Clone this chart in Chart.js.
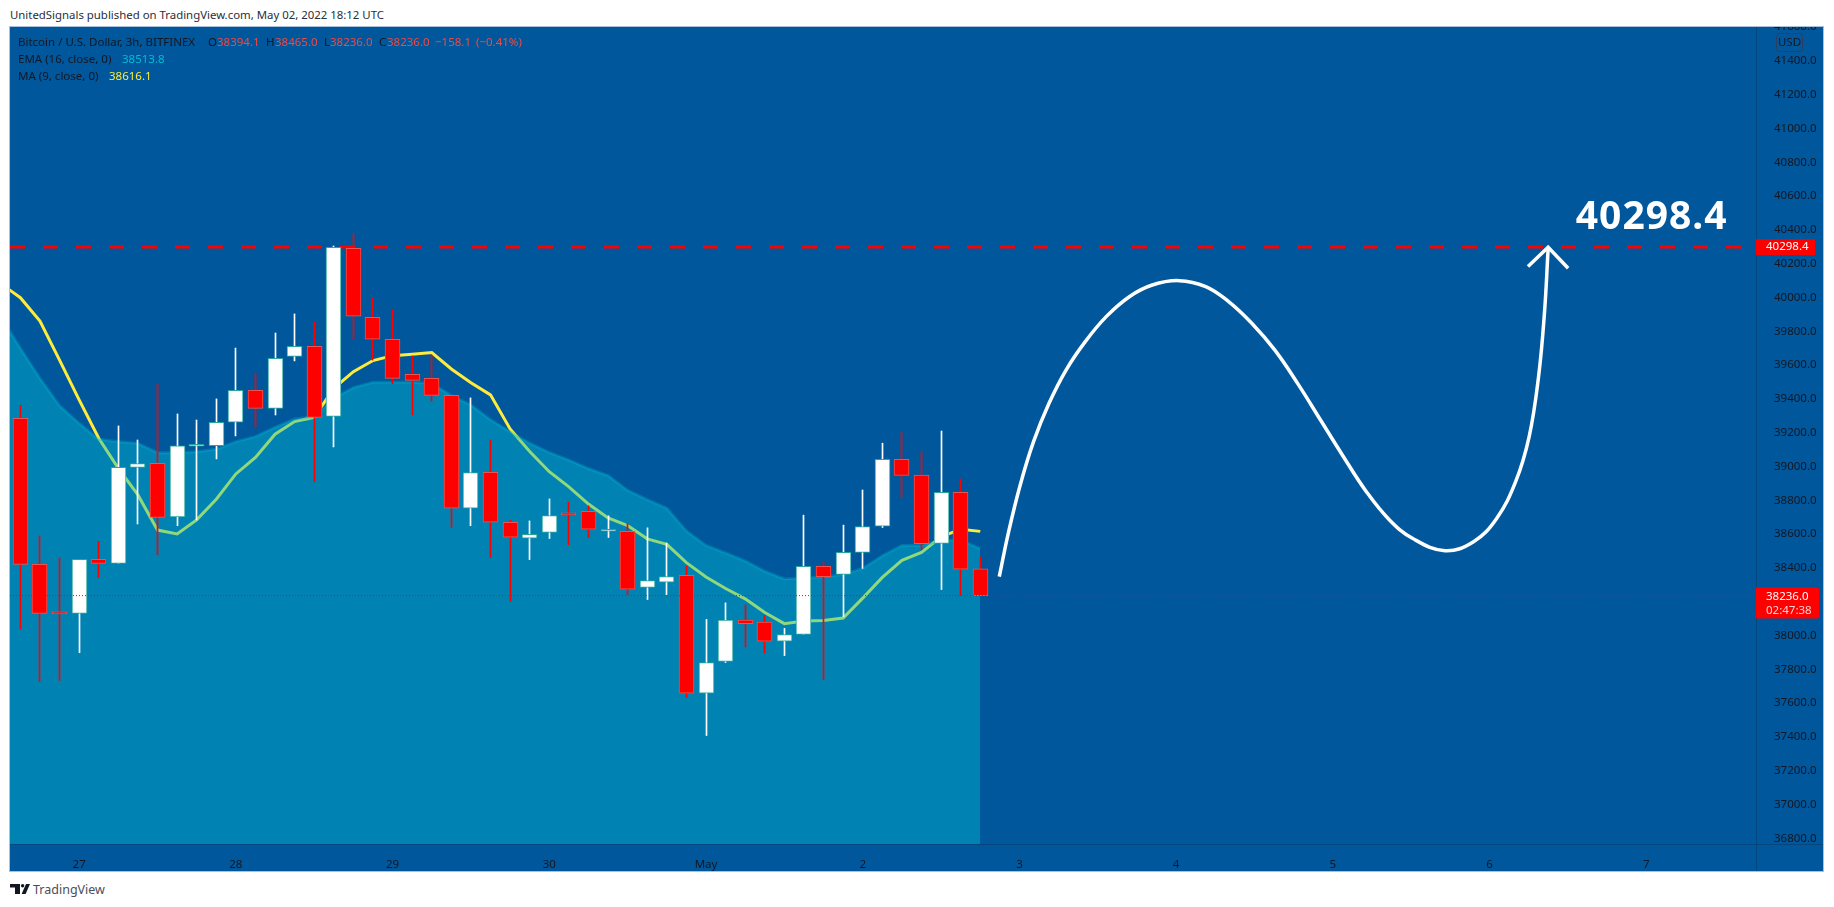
<!DOCTYPE html>
<html>
<head>
<meta charset="utf-8">
<title>BTCUSD 3h</title>
<script src="https://cdn.jsdelivr.net/npm/chart.js@4/dist/chart.umd.min.js"></script>
<style>
    html, body { margin: 0; padding: 0; background: #fff; width: 1834px; height: 907px; overflow: hidden; }
    body { font-family: "Noto Sans", sans-serif; color: #131722; }
    #frame { position: absolute; left: 9px; top: 26px; width: 1813px; height: 844px; border: 1px solid #a9c0da; }
    #barChart { position: absolute; left: 0; top: 0; display: block; }
    .txt { position: absolute; white-space: nowrap; font-size: 11.5px; line-height: 14px; }
    .red { color: #ef4a45; }
    #published { left: 10px; top: 8px; font-size: 11.4px; line-height: 14px; color: #2a2e39; }
    #wordmark { left: 33px; top: 883px; font-size: 12.5px; color: #4a4e59; }
    #logo { position: absolute; left: 10px; top: 884px; }
</style>
</head>
<body>
<div class="txt" id="published">UnitedSignals published on TradingView.com, May 02, 2022 18:12 UTC</div>
<div id="frame"><canvas id="barChart" width="1813" height="844"></canvas></div>

<div class="txt" style="left:18px;top:35px">Bitcoin / U.S. Dollar, 3h, BITFINEX</div>
<div class="txt" style="left:208px;top:35px">O</div><div class="txt red" style="left:217px;top:35px">38394.1</div>
<div class="txt" style="left:266px;top:35px">H</div><div class="txt red" style="left:275px;top:35px">38465.0</div>
<div class="txt" style="left:324px;top:35px">L</div><div class="txt red" style="left:330px;top:35px">38236.0</div>
<div class="txt" style="left:379px;top:35px">C</div><div class="txt red" style="left:387px;top:35px">38236.0</div>
<div class="txt red" style="left:435px;top:35px">−158.1</div><div class="txt red" style="left:476px;top:35px">(−0.41%)</div>
<div class="txt" style="left:18px;top:52px">EMA (16, close, 0)</div><div class="txt" style="left:122px;top:52px;color:#00bcd4">38513.8</div>
<div class="txt" style="left:18px;top:69px">MA (9, close, 0)</div><div class="txt" style="left:109px;top:69px;color:#ffeb3b">38616.1</div>

<svg id="logo" width="20" height="10" viewBox="0 0 20 10">
    <path fill="#131722" d="M0 0h10v10H5V3.4H0zM16 0h4l-4.4 10h-4z"/>
    <circle fill="#131722" cx="12.6" cy="1.7" r="1.7"/>
</svg>
<div class="txt" id="wordmark">TradingView</div>

<script>
// x is the candle number, one candle = 3h
const candleOpen = [39285,38421,38131,38131,38451,38427,38995,39019,38701,39120,39123,39262,39451,39344,39652,39711,39297,40291,39883,39753,39546,39522,39421,38753,38966,38670,38576,38610,38716,38735,38617,38617,38284,38315,38356,37659,37846,38091,38079,37967,38007,38409,38362,38492,38647,39043,38949,38545,38847,38394.1];
const candleClose = [38421,38131,38128,38451,38427,38995,39017,38699,39123,39123,39262,39451,39344,39640,39711,39291,40297,39889,39753,39522,39510,39421,38753,38964,38670,38582,38598,38710,38714,38629,38619,38274,38325,38348,37659,37840,38091,38070,37967,38005,38409,38348,38492,38645,39043,38947,38543,38847,38392,38236];
const candleHigh = [39362,38589,38459,38451,38557,39240,39157,39492,39311,39275,39400,39701,39552,39790,39903,39855,40305,40380,40001,39926,39654,39660,39421,39406,39157,38682,38678,38808,38788,38767,38708,38663,38637,38547,38411,38095,38193,38181,38119,38042,38712,38433,38653,38861,39138,39200,39089,39210,38926,38465];
const candleLow = [38037,37727,37733,37898,38342,38427,38660,38478,38650,38684,39045,39181,39234,39305,39625,38910,39116,39755,39630,39490,39305,39388,38640,38650,38461,38201,38449,38574,38537,38580,38580,38242,38213,38242,37632,37408,37840,37932,37897,37881,38007,37738,38111,38397,38639,38816,38507,38272,38236,38236];

// moving averages, first value is the candle before the visible window
const maValues = [40082,39999,39861,39630,39394,39167,38989,38832,38624,38601,38684,38806,38956,39054,39191,39266,39291,39463,39561,39627,39656,39664,39674,39577,39496,39424,39222,39089,38969,38880,38778,38696,38651,38572,38539,38431,38346,38278,38217,38136,38070,38085,38089,38103,38221,38344,38445,38492,38584,38629,38616.1];
const emaValues = [39885,39700,39522,39360,39256,39161,39147,39137,39082,39082,39088,39102,39147,39177,39232,39281,39295,39404,39467,39498,39498,39498,39492,39419,39364,39277,39206,39138,39083,39038,38988,38947,38859,38804,38753,38619,38533,38488,38441,38380,38335,38339,38346,38360,38397,38472,38533,38533,38564,38564,38513.8];

// hand drawn projection
const curveX = [49.97,50.45,51.04,51.72,52.51,53.38,54.36,55.43,56.61,57.78,59.15,60.51,61.68,62.86,64.03,65.20,66.37,67.54,68.71,69.89,71.06,72.72,74.18,75.36,76.33,77.02,77.50,77.80,77.99];
const curvePrice = [38348,38615,38891,39147,39374,39571,39739,39887,40005,40074,40100,40065,39976,39848,39690,39492,39275,39058,38851,38684,38575,38502,38555,38693,38910,39177,39532,39907,40291];
const arrowX = [76.96,77.99,79.01];
const arrowPrice = [40183,40297,40173];

const targetPrice = 40298.4;
const lastPrice = 38236;
const countdown = '02:47:38';

const priceTicks = [41600,41400,41200,41000,40800,40600,40400,40200,40000,39800,39600,39400,39200,39000,38800,38600,38400,38200,38000,37800,37600,37400,37200,37000,36800];
const dayTickPos = [3,11,19,27,35,43,51,59,67,75,83];
const dayTickLabels = ['27','28','29','30','May','2','3','4','5','6','7'];

const xMin = -0.53, xMax = 88.6;
const yMin = 36766, yMax = 41601;

const upColor = '#ffffff', downColor = '#ff0000';
const isUp = candleOpen.map((o, i) => candleClose[i] >= o);
const bodyColors = isUp.map(up => up ? upColor : downColor);
const edgeColors = isUp.map(up => up ? '#26a69a' : '#ef5350');

function xy(xs, ys) {
    return xs.map((x, i) => ({x: x, y: ys[i]}));
}
const indexes = candleOpen.map((_, i) => i);
const maX = maValues.map((_, i) => i - 1);

// labels on the price axis and the big target text
const priceLabels = {
    id: 'priceLabels',
    afterDatasetsUpdate(chart) {
        // candles sit on whole pixels in the original
        chart.getSortedVisibleDatasetMetas().forEach(meta => {
            if (meta.type !== 'bar') return;
            meta.data.forEach(el => { el.x = Math.floor(el.x) + 0.5; });
        });
    },
    afterDraw(chart) {
        const c = chart.ctx, y = chart.scales.y, x = chart.scales.x, a = chart.chartArea;
        c.save();
        // pane separators
        c.strokeStyle = 'rgba(19,23,34,0.25)';
        c.lineWidth = 1;
        c.beginPath();
        c.moveTo(a.right + 0.5, 0); c.lineTo(a.right + 0.5, chart.height);
        c.moveTo(0, a.bottom + 0.5); c.lineTo(chart.width, a.bottom + 0.5);
        c.stroke();

        c.textBaseline = 'middle';
        c.textAlign = 'left';
        c.font = '11.5px "Noto Sans"';
        const ty = y.getPixelForValue(targetPrice);
        c.fillStyle = downColor;
        c.fillRect(a.right, ty - 8, 59, 16);
        c.fillStyle = '#fff';
        c.fillText(targetPrice.toFixed(1), a.right + 10, ty);

        const ly = y.getPixelForValue(lastPrice);
        c.fillStyle = downColor;
        c.beginPath();
        c.roundRect(a.right, ly - 8, 63, 31, [0, 2, 2, 0]);
        c.fill();
        c.fillStyle = '#fff';
        c.fillText(lastPrice.toFixed(1), a.right + 10, ly + 1);
        c.fillStyle = '#ffd0d0';
        c.fillText(countdown, a.right + 10, ly + 15);

        // currency badge
        c.strokeStyle = '#2a3f5f';
        c.beginPath();
        c.roundRect(a.right + 20.5, 6.5, 26, 18, 3);
        c.stroke();
        c.fillStyle = '#131722';
        c.textAlign = 'center';
        c.fillText('USD', a.right + 33.5, 15.5);

        // big target label
        c.font = 'bold 39px "Noto Sans"';
        c.textAlign = 'left';
        c.textBaseline = 'alphabetic';
        c.fillStyle = '#fff';
        c.letterSpacing = '1px';
        c.fillText(targetPrice.toFixed(1), x.getPixelForValue(79.4), y.getPixelForValue(40408));
        c.restore();
    }
};

const lineBase = {type: 'line', pointRadius: 0, tension: 0, fill: false};

new Chart(document.getElementById('barChart').getContext('2d'), {
    type: 'bar',
    data: {
        datasets: [
            {...lineBase, data: xy(maX, maValues), borderColor: '#ffeb3b', borderWidth: 3, order: 7},
            {...lineBase, data: xy(maX, emaValues), borderColor: 'rgba(0,188,212,0.3)', borderWidth: 3, fill: 'start', backgroundColor: 'rgba(0,188,212,0.43)', order: 6},
            {...lineBase, data: [{x: xMin, y: targetPrice}, {x: xMax, y: targetPrice}], borderColor: downColor, borderWidth: 3, borderDash: [15, 18], order: 5},
            {data: indexes.map(i => ({x: i, y: [candleLow[i], candleHigh[i]]})), backgroundColor: bodyColors, borderWidth: 0, barThickness: 1, grouped: false, order: 4},
            {data: indexes.map(i => ({x: i, y: [candleOpen[i], candleClose[i]]})), backgroundColor: bodyColors, borderColor: edgeColors, borderWidth: 1, borderSkipped: false, barThickness: 15, grouped: false, minBarLength: 2, order: 3},
            {...lineBase, data: [{x: xMin, y: lastPrice}, {x: xMax, y: lastPrice}], borderColor: downColor, borderWidth: 1, borderDash: [1, 2], order: 2},
            {...lineBase, data: xy(curveX, curvePrice), borderColor: '#fff', borderWidth: 3.5, tension: 0.4, order: 1},
            {...lineBase, data: xy(arrowX, arrowPrice), borderColor: '#fff', borderWidth: 3.5, order: 0}
        ]
    },
    options: {
        responsive: false,
        animation: false,
        devicePixelRatio: 1,
        layout: {padding: 0},
        scales: {
            x: {
                type: 'linear',
                offset: false,
                min: xMin,
                max: xMax,
                grid: {display: false},
                border: {display: false},
                afterBuildTicks(scale) { scale.ticks = dayTickPos.map(v => ({value: v})); },
                afterFit(scale) {
                    scale.height = 27;
                    scale.paddingLeft = scale.paddingRight = 0;
                },
                ticks: {
                    autoSkip: false,
                    maxRotation: 0,
                    padding: 6,
                    color: '#131722',
                    font: {family: '"Noto Sans"', size: 11.5},
                    callback: v => dayTickLabels[dayTickPos.indexOf(v)]
                }
            },
            y: {
                position: 'right',
                min: yMin,
                max: yMax,
                grid: {display: false},
                border: {display: false},
                afterBuildTicks(scale) { scale.ticks = priceTicks.map(v => ({value: v})); },
                afterFit(scale) {
                    scale.width = 67;
                    scale.paddingTop = scale.paddingBottom = 0;
                },
                ticks: {
                    autoSkip: false,
                    padding: 10,
                    color: '#131722',
                    font: {family: '"Noto Sans"', size: 11.5},
                    callback: v => v.toFixed(1)
                }
            }
        },
        plugins: {legend: {display: false}, tooltip: {enabled: false}}
    },
    plugins: [priceLabels, {
        id: 'paneBg',
        beforeDraw(chart) {
            chart.ctx.fillStyle = '#01579b';
            chart.ctx.fillRect(0, 0, chart.width, chart.height);
        }
    }]
});
</script>
</body>
</html>
